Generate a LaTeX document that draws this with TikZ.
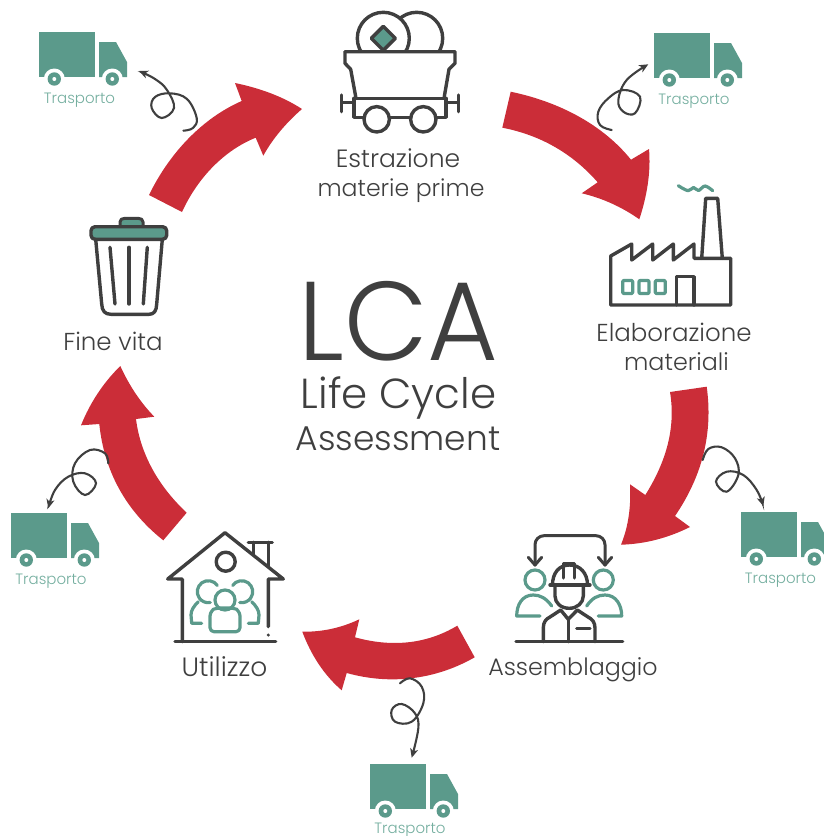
\documentclass[tikz,border=0pt]{standalone}
\usepackage{fontspec}
\setmainfont{Poppins}[UprightFont=* Light]
\usetikzlibrary{arrows.meta}
\definecolor{inkc}{HTML}{3F3F3F}
\definecolor{tealc}{HTML}{5B9A8B}
\definecolor{teallab}{HTML}{74AE9F}
\definecolor{redc}{HTML}{CB2D38}
\newcommand{\fsz}[1]{\fontsize{#1}{#1}\selectfont}
\tikzset{
  ink/.style={draw=inkc,line width=3.4pt,line cap=round,line join=round},
  tealline/.style={draw=tealc,line width=3.2pt,line cap=round,line join=round},
  redarrow/.style={fill=redc,draw=none},
  curl/.style={draw=inkc,line width=2.1pt,line cap=round,-{Stealth[length=9pt,width=8pt,inset=2.5pt]}},
  lab/.style={text=inkc,inner sep=0pt,anchor=center},
  trucklab/.style={text=teallab,font=\fsz{15},inner sep=0pt,anchor=center},
  truck/.pic={
    \fill[tealc] (0,0) rectangle (56,45);
    \fill[tealc] (60,10) -- (77,10) -- (88,30) -- (88,45) -- (60,45) -- cycle;
    \foreach \wx in {15.3,73.3}{
      \fill[white] (\wx,47) circle[radius=10.5];
      \fill[tealc] (\wx,47) circle[radius=6.7];
      \fill[white] (\wx,47) circle[radius=2];
    }
  }
}
\begin{document}
\begin{tikzpicture}[x=1pt,y=-1pt]
\useasboundingbox (0,0) rectangle (824,836);

% red arrows
\fill[redarrow] (149,195) .. controls (170,152) and (203,118) .. (241.7,101) -- (235,83)
  .. controls (259,88) and (282,96) .. (302,109) .. controls (287,122) and (273,138) .. (263.3,155.7)
  -- (255.7,137.7) .. controls (225,150) and (198,177) .. (182,212) -- cycle;
\fill[redarrow] (510.7,91.7) .. controls (560,102) and (603,125) .. (631,159.7) -- (649,149)
  .. controls (651,172) and (647,196) .. (639.3,219.3) .. controls (622,207) and (602,198) .. (581.7,193.3)
  -- (597.7,182.3) .. controls (572,153) and (540,135) .. (502.3,127.7) -- cycle;
\fill[redarrow] (706.7,386.7) .. controls (713,432) and (703,475) .. (675,516) -- (690,527)
  .. controls (668,538) and (645,544) .. (621,544.7) .. controls (629,525) and (631,505) .. (630,484.3)
  -- (645.3,495) .. controls (666,462) and (676,428) .. (670,392) -- cycle;
\fill[redarrow] (474.7,657.3) .. controls (435,680) and (390,685) .. (346.7,673) -- (341.7,690.3)
  .. controls (324,675) and (311,655) .. (302.3,631.7) .. controls (322,632) and (341,628) .. (359.3,619.3)
  -- (355,637.3) .. controls (390,647) and (425,645) .. (457.3,625.7) -- cycle;
\fill[redarrow] (163.3,540.3) .. controls (125,510) and (104,470) .. (99.3,424) -- (81,425.3)
  .. controls (90,403) and (103,383) .. (120.3,366) .. controls (129,385) and (140,402) .. (154.3,416.7)
  -- (136,419) .. controls (140,452) and (157,485) .. (186.7,512.7) -- cycle;

% curls
\draw[curl] plot[smooth,tension=.65] coordinates {(183.3,130.7)(193,128)(196.7,118)(187,99)(170,93.3)(155,97)(151.7,108)(161.7,118)(174,108)(167,90)(155,79)(139,71)};
\draw[curl] plot[smooth,tension=.65] coordinates {(611.7,130)(600,125)(598.3,111.7)(608.3,98.3)(623.3,90)(640,96.7)(635,113.3)(623.3,111.7)(618.3,100)(626.7,80)(648.3,64.3)};
\draw[curl] plot[smooth,tension=.65] coordinates {(702.7,460)(708.3,449)(721.7,447.3)(735,458.3)(738.3,475)(726.7,491.7)(716,481.7)(726.7,471.7)(743.3,475)(756.7,490)(763.3,506)};
\draw[curl] plot[smooth,tension=.65] coordinates {(400,683.3)(410,678.3)(421.7,686.7)(423.3,703.3)(411.7,721.7)(395,721.7)(391.7,710)(401.7,704)(415,713.3)(418.3,728.3)(411.7,757.7)};
\draw[curl] plot[smooth,tension=.65] coordinates {(108.3,463.3)(105,453.3)(90,450)(75,463.3)(73.3,481.7)(85,495)(96,483.3)(85,473.3)(68.3,476.7)(55,490)(48.3,508.3)};

% trucks
\pic at (39,32) {truck};
\pic at (654,33) {truck};
\pic at (741,512) {truck};
\pic at (370,764) {truck};
\pic at (11,513) {truck};
\node[trucklab] (tra) at (79.5,100.5) {Trasporto};
\node[trucklab] (trb) at (694,101.5) {Trasporto};
\node[trucklab] (trc) at (780.5,580.5) {Trasporto};
\node[trucklab] (trd) at (410,830.5) {Trasporto};
\node[trucklab] (tre) at (51,581.5) {Trasporto};

% mine cart
\begin{scope}
  \clip (330,0) rectangle (470,51.7);
  \draw[ink] (416.7,38.3) circle[radius=26];
  \draw[ink,fill=white] (383.3,38.3) circle[radius=26];
\end{scope}
\draw[ink,fill=tealc] (383.3,26.3) -- (395.3,38.3) -- (383.3,50.3) -- (371.3,38.3) -- cycle;
\draw[ink] (345,51.7) -- (455,51.7) -- (455,63.3) -- (449,69.3) -- (444,98.3);
\draw[ink] (345,51.7) -- (345,63.3) -- (350.7,69.3) -- (356,98.3);
\draw[ink] (356,98.3) -- (444,98.3);
\draw[ink] (354,98.3) -- (354,117.3) -- (363,117.3);
\draw[ink] (446,98.3) -- (446,117.3) -- (437,117.3);
\draw[ink] (390,117.3) -- (410,117.3);
\draw[ink] (376.7,119.3) circle[radius=12.7];
\draw[ink] (423.3,119.3) circle[radius=12.7];
\draw[ink] (341.7,95) -- (341.7,111.7);
\draw[ink] (458.3,95) -- (458.3,111.7);
\draw[ink] (341.7,102.7) -- (354,102.7);
\draw[ink] (446,102.7) -- (458.3,102.7);
\node[lab,font=\fsz{25}] (estr1) at (398,158.5) {Estrazione};
\node[lab,font=\fsz{23.6}] (estr2) at (401,191) {materie prime};

% factory
\draw[ink] (610.7,305) -- (610.7,256) -- (631.7,244) -- (631.7,260) -- (652.7,244) -- (652.7,260) -- (673.3,244) -- (673.3,260) -- (694,244) -- (694,258.3) -- (730.7,258.3) -- (730.7,305) -- cycle;
\draw[ink] (701.7,258.3) -- (705.7,198.3) -- (717.7,198.3) -- (722.3,258.3);
\draw[ink] (676.7,305) -- (676.7,276.7) -- (694,276.7) -- (694,305);
\foreach \wx in {627.7,644,660.3}
  \draw[tealline,rounded corners=1pt] (\wx-5,280.5) rectangle (\wx+5,293.5);
\draw[tealline] plot[smooth,tension=.6] coordinates {(678.3,185.7)(688,190.7)(693.5,187.5)(698.5,190.5)(705,186)(712.7,190.7)};
\node[lab,font=\fsz{24.5}] (elab1) at (674,332.5) {Elaborazione};
\node[lab,font=\fsz{23.8}] (elab2) at (676.5,361.5) {materiali};

% worker
\draw[ink] (516,641.7) -- (622.7,641.7);
\draw[ink,line width=3pt,rounded corners=9pt] (535,565) -- (535,535.7) -- (605,535.7) -- (605,565);
\draw[ink,line width=3pt] (528.3,557.3) -- (535,565) -- (541.7,557.3);
\draw[ink,line width=3pt] (598.3,557.3) -- (605,565) -- (611.7,557.3);
\draw[tealline] (535,580) circle[radius=10];
\draw[tealline] (603.3,580) circle[radius=10];
\draw[tealline] (551.7,606) .. controls (546,598) and (540,595) .. (533.3,595) .. controls (522,595) and (516.7,605) .. (516.7,616) -- (540,616);
\draw[tealline] (586.7,606) .. controls (592,598) and (598,595) .. (605,595) .. controls (616,595) and (621.7,605) .. (621.7,616) -- (598.3,616);
\draw[ink,fill=white] (552.5,585) .. controls (552.5,573) and (559,565) .. (569.5,565) .. controls (580,565) and (587.5,573) .. (587.5,585);
\draw[ink,line width=3pt] (563.5,578) -- (563.5,563.5) -- (574,563.5) -- (574,578);
\draw[ink] (550,585) -- (590,585);
\draw[ink] (555,587) -- (555,596) .. controls (555,603) and (561,608.3) .. (569.3,608.3) .. controls (577,608.3) and (583.3,603) .. (583.3,596) -- (583.3,587);
\draw[ink] (543.3,641.7) -- (543.3,628) .. controls (543.3,622) and (546,619) .. (550,617) -- (560.7,610) -- (568.3,619.3) -- (577.3,610) -- (588,617) .. controls (592,619) and (595,622) .. (595,628) -- (595,641.7);
\draw[ink] (568.3,619.3) -- (568.3,641.7);
\draw[ink] (576.7,628.3) -- (590,628.3);
\node[lab,font=\fsz{23.8}] (asse) at (573,669.5) {Assemblaggio};

% house
\draw[ink] (182.3,641.7) -- (182.3,579) -- (167.7,579) -- (225,532.7) -- (283.3,579) -- (268.3,579) -- (268.3,626.7);
\fill[inkc] (268.3,635) circle[radius=1.7];
\draw[ink] (175,641.7) -- (275.7,641.7);
\draw[ink] (248.3,542.3) -- (272.3,542.3);
\draw[ink] (253.3,542.3) -- (253.3,555);
\draw[ink] (268.3,542.3) -- (268.3,566.7);
\draw[ink] (225.7,561.7) circle[radius=9.5];
\draw[tealline] (225,600) circle[radius=10];
\draw[tealline,rounded corners=4pt] (210,631.7) -- (210,620) .. controls (210,612) and (214,609) .. (217,608) -- (233,608) .. controls (236,609) and (240,612) .. (240,620) -- (240,631.7) -- cycle;
\draw[tealline] (208.3,591.7) ++(-35:11) arc[start angle=-35,end angle=-280,radius=11];
\draw[tealline] (241.7,591.7) ++(-145:11) arc[start angle=-145,end angle=100,radius=11];
\draw[tealline] (198.3,601.7) .. controls (194,606) and (191,610) .. (191,615) -- (191.7,623.3) -- (201.7,623.3);
\draw[tealline] (251.7,601.7) .. controls (256,606) and (259,610) .. (259,615) -- (258.3,623.3) -- (248.3,623.3);
\node[lab,font=\fsz{26.5}] (util) at (224.5,667) {Utilizzo};

% bin
\draw[ink,fill=tealc,line width=3pt] (120,227) -- (120,222) .. controls (120,219.5) and (122,218.3) .. (125,218.3) -- (138,218.3) .. controls (141,218.3) and (143,219.5) .. (143,222) -- (143,227);
\draw[ink,fill=tealc,rounded corners=4pt] (91,226.7) rectangle (166.7,239.3);
\draw[ink] (95.7,239.3) -- (101.7,304) .. controls (102,311) and (105,314.3) .. (111,314.3) -- (149,314.3) .. controls (154,314.3) and (156.5,311) .. (156.7,304) -- (162.3,239.3);
\draw[ink] (110,247.3) -- (115,304);
\draw[ink] (129,247.3) -- (129,304);
\draw[ink] (147.3,247.3) -- (143.3,304);
\node[lab,font=\fsz{24.5}] (fine) at (113,341) {Fine vita};

% centre
\node[lab,font=\fsz{112},xscale=.97] (lca) at (398.5,321) {LCA};
\node[lab,font=\fsz{42}] (life) at (398.5,397.5) {Life Cycle};
\node[lab,font=\fsz{34.4}] (asmt) at (398,439) {Assessment};
\end{tikzpicture}
\end{document}
